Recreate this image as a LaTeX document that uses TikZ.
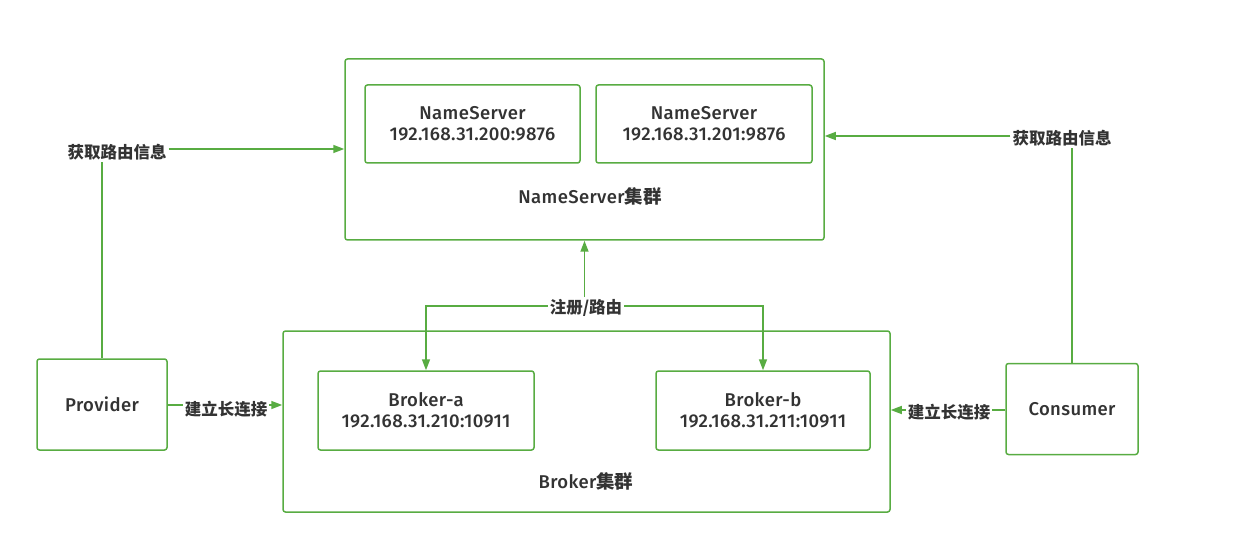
\documentclass[tikz,border=0pt]{standalone}
\usepackage{fontspec}
\setmainfont{Fira Sans}[BoldFont={Fira Sans Medium},LetterSpace=2]
\newfontfamily\cjk{Noto Sans CJK SC}
\usetikzlibrary{arrows.meta}
\definecolor{grn}{RGB}{88,172,66}
\definecolor{txt}{RGB}{51,51,51}
\begin{document}
\begin{tikzpicture}[x=1pt,y=-1pt,
  box/.style={draw=grn,line width=1.5pt,rounded corners=2.5pt,fill=white},
  lbl/.style={text=txt,font=\fontsize{18.5}{21}\selectfont\bfseries,inner sep=2pt,align=center},
  cl/.style={text=txt,font=\fontsize{16.5}{18}\selectfont\bfseries\cjk,inner sep=2pt},
  conn/.style={draw=grn,line width=1.5pt},
  arr/.style={conn,-{Triangle[length=11pt,width=8pt]}}]
\useasboundingbox (0,0) rectangle (1240,556);
% clusters
\node[box,minimum width=479pt,minimum height=181pt] (nsc) at (584.5,149.5) {};
\node[lbl] (nsclbl) at (590,196) {NameServer{\cjk 集群}};
\node[box,minimum width=215pt,minimum height=78pt,lbl] (ns1) at (472.5,124) {NameServer\\192.168.31.200:9876};
\node[box,minimum width=216pt,minimum height=78pt,lbl] (ns2) at (704,124) {NameServer\\192.168.31.201:9876};
\node[box,minimum width=607pt,minimum height=181pt] (bc) at (586.5,421.5) {};
\node[lbl] (bclbl) at (586,481) {Broker{\cjk 集群}};
\node[box,minimum width=216pt,minimum height=79pt,lbl] (ba) at (426,410.5) {Broker-a\\192.168.31.210:10911};
\node[box,minimum width=214pt,minimum height=79pt,lbl] (bb) at (763,410.5) {Broker-b\\192.168.31.211:10911};
% clients
\node[box,minimum width=130pt,minimum height=91pt,lbl] (prov) at (102,404.5) {Provider};
\node[box,minimum width=132pt,minimum height=91pt,lbl] (cons) at (1072,409) {Consumer};
% labels
\node[cl] (l1) at (117,152) {获取路由信息};
\node[cl] (l2) at (1062,138) {获取路由信息};
\node[cl] (l3) at (586,308) {注册/路由};
\node[cl] (l4) at (226,409) {建立长连接};
\node[cl] (l5) at (949,412) {建立长连接};
% connectors
\coordinate (p1) at (prov.north);
\draw[conn] (p1) -- (p1 |- l1.south);
\draw[arr] (l1.east |- 0,149) -- (nsc.west |- 0,149);
\coordinate (c1) at (cons.north);
\draw[conn] (c1) -- (c1 |- l2.south);
\draw[arr] (l2.west |- 0,136) -- (nsc.east |- 0,136);
\draw[arr] (l3.north -| nsc.south) -- (nsc.south);
\draw[arr] (l3.west |- 0,306) -| (ba.north);
\draw[arr] (l3.east |- 0,306) -| (bb.north);
\draw[conn] (prov.east |- 0,405) -- (l4.west |- 0,405);
\draw[arr] (l4.east |- 0,405) -- (bc.west |- 0,405);
\draw[conn] (cons.west |- 0,410) -- (l5.east |- 0,410);
\draw[arr] (l5.west |- 0,410) -- (bc.east |- 0,410);
\end{tikzpicture}
\end{document}
